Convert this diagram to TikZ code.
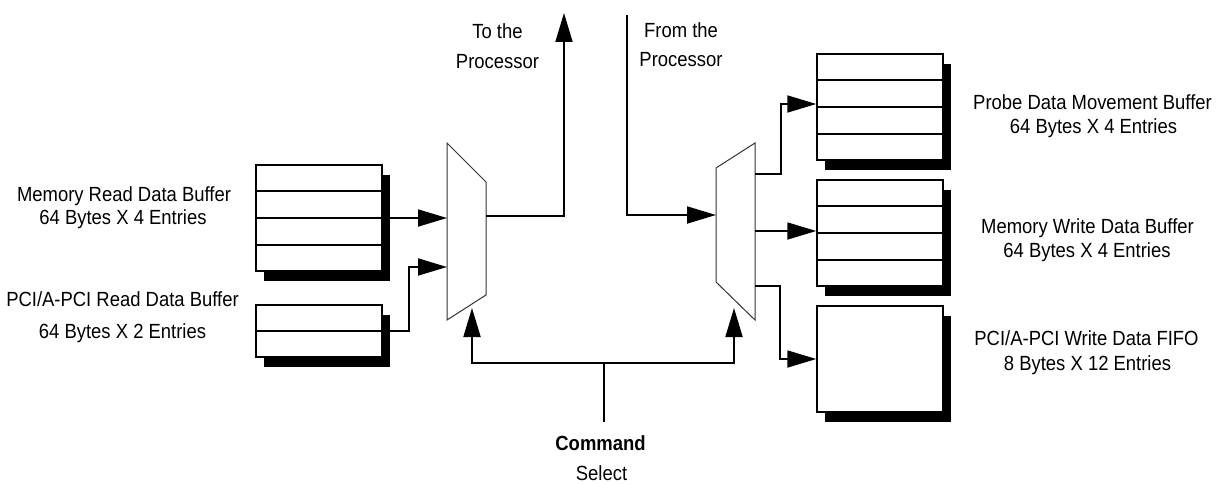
\documentclass[tikz,border=0pt]{standalone}
\usepackage{fontspec}
\setmainfont{Liberation Sans}[FakeStretch=0.9]
\usetikzlibrary{arrows.meta,shadows,calc}
\tikzset{
  lbl/.style={anchor=base, inner sep=0pt, font=\fontsize{20.5}{24.5}\selectfont},
  buf/.style={draw, line width=1.5pt, fill=white, minimum width=126pt, inner sep=0pt,
    drop shadow={shadow xshift=8pt, shadow yshift=-10pt, opacity=1, fill=black, draw=none}},
  rowline/.style={line width=1.5pt},
  conn/.style={line width=1.8pt},
  arr/.style={conn, -{Triangle[length=29pt,width=17pt]}},
  muxs/.style={draw=black!80, line width=1pt, fill=white},
}
\begin{document}
\begin{tikzpicture}[x=1pt,y=-1pt]
\useasboundingbox (0,0) rectangle (1217,484);

% buffers
\node[buf, minimum height=106pt] (mr) at (319,218) {};
\node[buf, minimum height=52pt]  (pr) at (319,331) {};
\node[buf, minimum height=106pt] (pd) at (880,107) {};
\node[buf, minimum height=106pt] (mw) at (880,233) {};
\node[buf, minimum height=106pt] (ff) at (880,359) {};

\foreach \b in {mr,pd,mw}{
  \foreach \f in {0.25,0.5,0.75}{
    \draw[rowline] ($(\b.north west)!\f!(\b.south west)$) -- ($(\b.north east)!\f!(\b.south east)$);
  }
}
\draw[rowline] ($(pr.north west)!0.5!(pr.south west)$) -- ($(pr.north east)!0.5!(pr.south east)$);

% multiplexers
\draw[muxs] (447,143) -- (486,182) -- (486,295) -- (447,320) -- cycle;
\draw[muxs] (716,168) -- (755,143) -- (755,320) -- (716,282) -- cycle;

\coordinate (m1inA) at (447,218);
\coordinate (m1inB) at (447,267);
\coordinate (m1out) at (486,216);
\coordinate (m1sel) at (472,308);
\coordinate (m2in)  at (716,215);
\coordinate (m2oA)  at (755,174);
\coordinate (m2oB)  at (755,231);
\coordinate (m2oC)  at (755,286);
\coordinate (m2sel) at (734,308);
\coordinate (toproc) at (564,13);
\coordinate (fromproc) at (627,15);
\coordinate (cmdj) at (604,363);
\coordinate (cmd) at (604,422);

% connectors
\draw[arr] (mr.east) -- (mr.east -| m1inA);
\draw[arr] (pr.east) -- ++(26,0) |- (m1inB);
\draw[arr] (m1out) -| (toproc);
\draw[arr] (fromproc) |- (m2in);
\draw[arr] (m2oA) -- ++(26,0) |- ([yshift=3pt]pd.west);
\draw[arr] (m2oB) -- (m2oB -| mw.west);
\draw[arr] (m2oC) -- ++(25,0) |- (ff.west);
\draw[conn] (cmd) -- (cmdj);
\draw[arr] (cmdj) -| (m1sel);
\draw[arr] (cmdj) -| (m2sel);

% labels
\node[lbl] (l1a) at (124,201) {Memory Read Data Buffer};
\node[lbl] (l1b) at (123,224) {64 Bytes X 4 Entries};
\node[lbl] (l2a) at (122.5,306.5) {PCI/A-PCI Read Data Buffer};
\node[lbl] (l2b) at (122.5,338) {64 Bytes X 2 Entries};
\node[lbl] (t1a) at (497.5,39) {To the};
\node[lbl] (t1b) at (497.5,68.5) {Processor};
\node[lbl] (t2a) at (681,37.5) {From the};
\node[lbl] (t2b) at (681,67) {Processor};
\node[lbl] (r1a) at (1092.5,110) {Probe Data Movement Buffer};
\node[lbl] (r1b) at (1093.5,134) {64 Bytes X 4 Entries};
\node[lbl] (r2a) at (1087.5,233) {Memory Write Data Buffer};
\node[lbl] (r2b) at (1087,257) {64 Bytes X 4 Entries};
\node[lbl] (r3a) at (1086.5,345) {PCI/A-PCI Write Data FIFO};
\node[lbl] (r3b) at (1087.5,370) {8 Bytes X 12 Entries};
\node[lbl, font=\fontsize{20.5}{24.5}\selectfont\bfseries] (c1) at (600.5,450.5) {Command};
\node[lbl] (c2) at (601.5,480.5) {Select};
\end{tikzpicture}
\end{document}
